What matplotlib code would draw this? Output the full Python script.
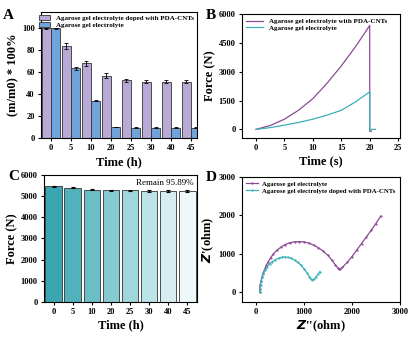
import matplotlib
matplotlib.use('Agg')
import matplotlib.pyplot as plt
import numpy as np

plt.rcParams['font.family'] = ['Liberation Serif', 'DejaVu Serif']
plt.rcParams['font.weight'] = 'bold'
plt.rcParams['axes.labelweight'] = 'bold'
plt.rcParams['axes.linewidth'] = 0.8

# Panel A: mass retention
a_times = ['0', '5', '10', '20', '25', '30', '40', '45']
a_pda = [100, 84, 68, 57, 52.5, 51.5, 51.5, 51.5]
a_pda_err = [0.5, 2.5, 2, 2, 1.5, 1.5, 1.5, 1.5]
a_plain = [100, 63.5, 34, 10, 9.5, 9.5, 9.5, 9.5]
a_plain_err = [0.5, 1, 0.5, 0.3, 0.3, 0.3, 0.3, 0.3]

# Panel B: force vs time
b_t = [0, 2.5, 5, 7.5, 10, 12.5, 15, 17.5, 20, 20, 20.3]
b_pda = [0, 200, 530, 1000, 1600, 2400, 3300, 4300, 5400, -100, -100]
b_t2 = [0, 2.5, 5, 7.5, 10, 12.5, 15, 17.5, 20, 20, 20.3, 21]
b_plain = [0, 90, 220, 360, 530, 740, 990, 1430, 1950, -50, 0, 0]

# Panel C: force retention
c_times = ['0', '5', '10', '20', '25', '30', '40', '45']
c_force = [5460, 5400, 5310, 5270, 5270, 5250, 5250, 5240]
c_err = [30, 40, 30, 30, 30, 40, 60, 40]

# Panel D: Nyquist
d_plain_x = [70, 75, 85, 100, 120, 145, 175, 210, 255, 300, 360, 430, 510, 600, 700,
             800, 900, 1000, 1100, 1200, 1300, 1400, 1500, 1580, 1650, 1700, 1730,
             1760, 1800, 1900, 2000, 2100, 2200, 2300, 2400, 2500, 2600]
d_plain_y = [0, 100, 200, 300, 400, 500, 600, 700, 800, 900, 1000, 1090, 1170, 1240, 1290,
             1315, 1320, 1310, 1280, 1230, 1160, 1070, 960, 840, 720, 640, 600,
             610, 650, 780, 930, 1100, 1270, 1440, 1610, 1790, 1980]
d_pda_x = [70, 78, 90, 105, 125, 150, 185, 230, 280, 340, 400, 470, 540, 600, 660,
           730, 800, 870, 940, 1000, 1060, 1110, 1150, 1175, 1200, 1240, 1290, 1330]
d_pda_y = [0, 100, 200, 300, 400, 490, 580, 670, 740, 800, 850, 890, 915, 920, 910,
           885, 840, 780, 700, 610, 510, 410, 340, 320, 340, 390, 470, 540]

PURPLE_BAR = '#B9A9D6'
BLUE_BAR = '#6FA3DA'
PURPLE_LINE = '#8A4A94'
CYAN_LINE = '#3BB0B6'

fig = plt.figure(figsize=(4.12, 3.37), dpi=100)
fig.patch.set_facecolor('white')

tick_fs = 6
label_fs = 9


def style(ax):
    ax.tick_params(labelsize=tick_fs, width=0.8, length=2.5, direction='out', pad=2)
    for lab in ax.get_xticklabels() + ax.get_yticklabels():
        lab.set_fontweight('bold')


# ---- A ----
axA = fig.add_axes([0.0995, 0.5905, 0.3786, 0.374])
x = np.arange(len(a_times))
w = 0.47
axA.bar(x - w / 2, a_pda, w, yerr=a_pda_err, color=PURPLE_BAR, edgecolor='#333333',
        linewidth=0.6, capsize=1.5, error_kw=dict(elinewidth=0.6, capthick=0.6),
        label='Agarose gel electrolyte doped with PDA-CNTs')
axA.bar(x + w / 2, a_plain, w, yerr=a_plain_err, color=BLUE_BAR, edgecolor='#333333',
        linewidth=0.6, capsize=1.5, error_kw=dict(elinewidth=0.6, capthick=0.6),
        label='Agarose gel electrolyte')
axA.set_xticks(x)
axA.set_xticklabels(a_times)
axA.set_xlim(-0.5, 7.3)
axA.set_ylim(0, 115)
axA.set_yticks([0, 20, 40, 60, 80, 100])
axA.set_xlabel('Time (h)', fontsize=label_fs, labelpad=3)
axA.set_ylabel('(m/m0) * 100%', fontsize=label_fs, labelpad=2)
axA.legend(loc='upper right', frameon=False, handlelength=1.6,
           handleheight=0.7, borderaxespad=0.1, labelspacing=0.15,
           prop=dict(size=5, weight='bold'))
style(axA)

# ---- B ----
axB = fig.add_axes([0.587, 0.5905, 0.3835, 0.368])
axB.plot(b_t, b_pda, color=PURPLE_LINE, lw=0.9, label='Agarose gel electrolyte with PDA-CNTs')
axB.plot(b_t2, b_plain, color=CYAN_LINE, lw=0.9, label='Agarose gel electrolyte')
axB.set_xlim(-2.5, 25.3)
axB.set_ylim(-450, 6000)
axB.set_xticks([0, 5, 10, 15, 20, 25])
axB.set_yticks([0, 1500, 3000, 4500, 6000])
axB.set_xlabel('Time (s)', fontsize=label_fs, labelpad=2)
axB.set_ylabel('Force (N)', fontsize=label_fs, labelpad=2)
axB.legend(loc='upper left', frameon=False, handlelength=2.5, borderaxespad=0.2,
           labelspacing=0.15, prop=dict(size=5, weight='bold'))
style(axB)

# ---- C ----
axC = fig.add_axes([0.1068, 0.1039, 0.371, 0.377])
xc = np.arange(len(c_times))
cmap_cols = ['#3AA6B1', '#52B2BB', '#6BBEC6', '#86CBD1', '#A0D7DC', '#BCE3E7',
             '#D6EEF1', '#EEF8FA']
axC.bar(xc, c_force, 0.86, yerr=c_err, color=cmap_cols, edgecolor='#333333',
        linewidth=0.6, capsize=1.5, error_kw=dict(elinewidth=0.8, capthick=0.8))
axC.set_xticks(xc)
axC.set_xticklabels(c_times)
axC.set_xlim(-0.5, 7.5)
axC.set_ylim(0, 6000)
axC.set_yticks(range(0, 6001, 1000))
axC.set_xlabel('Time (h)', fontsize=label_fs, labelpad=2)
axC.set_ylabel('Force (N)', fontsize=label_fs, labelpad=2)
axC.text(0.98, 0.965, 'Remain 95.89%', transform=axC.transAxes, ha='right', va='top',
         fontsize=6.5, fontweight='normal')
style(axC)

# ---- D ----
axD = fig.add_axes([0.587, 0.1039, 0.3835, 0.371])
axD.plot(d_plain_x, d_plain_y, color=PURPLE_LINE, lw=0.9, marker='o', ms=0.6,
         label='Agarose gel electrolyte')
axD.plot(d_pda_x, d_pda_y, color=CYAN_LINE, lw=0.9, marker='o', ms=0.6,
         label='Agarose gel electrolyte doped with PDA-CNTs')
axD.set_xlim(-300, 3000)
axD.set_ylim(-250, 3000)
axD.set_xticks([0, 1000, 2000, 3000])
axD.set_yticks([0, 1000, 2000, 3000])
axD.set_xlabel("$\\mathbf{\\it{Z}}$''(ohm)", fontsize=label_fs, labelpad=2)
axD.set_ylabel("$\\mathbf{\\it{Z}}$'(ohm)", fontsize=label_fs, labelpad=2)
axD.legend(loc='upper left', frameon=False, handlelength=1.8, handletextpad=0.5,
           borderaxespad=0.2, labelspacing=0.15,
           prop=dict(size=4.9, weight='bold'))
style(axD)

# panel letters
for lx, ly, s in [(0.008, 0.955, 'A'), (0.500, 0.955, 'B'),
                  (0.02, 0.475, 'C'), (0.500, 0.472, 'D')]:
    fig.text(lx, ly, s, fontsize=11, fontweight='bold', ha='left', va='center')

fig.savefig('out.png', dpi=100, facecolor='white')
